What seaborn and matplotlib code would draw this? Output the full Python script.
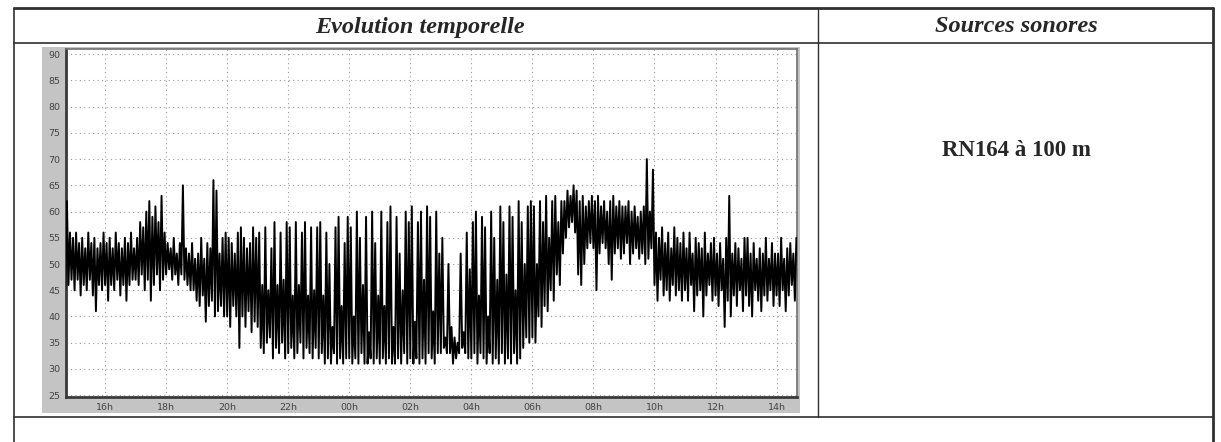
import numpy as np
import pandas as pd
import matplotlib
matplotlib.use("Agg")
import matplotlib.pyplot as plt
from matplotlib.lines import Line2D
from matplotlib.patches import Rectangle
import seaborn as sns

# sound level (dB), max and min read in each 6 min slot
# from 14.7h (day 1) to 38.6h (= 14.6h day 2)
t_start = 14.7
t_step = 0.1
lvl_hi = [
    62, 56, 55,
    56, 54, 55, 53, 56, 54, 55, 53, 54, 56,   # 15h
    54, 55, 53, 56, 54, 53, 55, 54, 56, 53,   # 16h
    55, 58, 57, 60, 62, 59, 61, 58, 63, 56,   # 17h
    54, 53, 55, 52, 54, 65, 53, 52, 54, 51,   # 18h
    52, 55, 51, 54, 53, 66, 64, 52, 55, 56,   # 19h
    55, 54, 52, 56, 57, 55, 53, 54, 57, 55,   # 20h
    56, 46, 57, 45, 53, 58, 46, 56, 47, 58,   # 21h
    57, 44, 58, 46, 56, 58, 44, 57, 45, 57,   # 22h
    58, 44, 56, 50, 38, 57, 59, 42, 54, 59,   # 23h
    57, 40, 60, 55, 46, 59, 37, 60, 54, 44,   # 00h
    60, 42, 58, 61, 38, 59, 52, 45, 60, 58,   # 01h
    61, 39, 58, 60, 47, 61, 59, 41, 60, 52,   # 02h
    55, 36, 50, 38, 36, 35, 52, 37, 56, 49,   # 03h
    58, 60, 44, 59, 57, 40, 60, 55, 47, 61,   # 04h
    58, 48, 61, 59, 45, 62, 58, 50, 61, 62,   # 05h
    61, 50, 62, 58, 63, 55, 62, 63, 58, 62,   # 06h
    62, 64, 63, 65, 64, 62, 63, 61, 62, 63,   # 07h
    62, 63, 61, 62, 60, 62, 63, 61, 62, 61,   # 08h
    61, 62, 60, 61, 59, 60, 61, 70, 60, 68,   # 09h
    56, 55, 57, 54, 56, 53, 57, 55, 54, 56,   # 10h
    53, 56, 52, 55, 54, 53, 56, 52, 54, 55,   # 11h
    52, 54, 51, 55, 63, 52, 54, 53, 51, 55,   # 12h
    55, 52, 54, 51, 53, 52, 55, 51, 54, 52,   # 13h
    52, 55, 51, 53, 54, 52, 55,               # 14h
]
lvl_lo = [
    45, 46, 47,
    45, 47, 44, 46, 45, 47, 44, 41, 46, 45,   # 15h
    46, 43, 46, 45, 47, 44, 46, 43, 46, 47,   # 16h
    47, 46, 48, 45, 47, 43, 46, 48, 45, 47,   # 17h
    48, 49, 47, 48, 46, 48, 47, 46, 45, 45,   # 18h
    43, 42, 44, 39, 42, 43, 40, 41, 42, 40,   # 19h
    40, 38, 42, 40, 34, 40, 38, 41, 37, 39,   # 20h
    38, 34, 33, 35, 36, 32, 34, 33, 35, 32,   # 21h
    33, 34, 32, 33, 35, 32, 34, 33, 32, 34,   # 22h
    32, 33, 31, 32, 31, 33, 31, 32, 31, 32,   # 23h
    32, 31, 32, 31, 33, 31, 31, 32, 31, 32,   # 00h
    31, 32, 31, 32, 31, 31, 32, 31, 33, 31,   # 01h
    32, 31, 32, 31, 32, 31, 33, 32, 31, 33,   # 02h
    33, 34, 33, 33, 31, 32, 33, 34, 33, 32,   # 03h
    32, 33, 31, 33, 32, 31, 33, 31, 32, 31,   # 04h
    33, 31, 32, 31, 33, 31, 32, 34, 36, 35,   # 05h
    36, 35, 40, 38, 42, 41, 45, 43, 48, 46,   # 06h
    52, 55, 57, 58, 56, 48, 46, 50, 53, 54,   # 07h
    53, 45, 52, 54, 53, 50, 47, 52, 53, 51,   # 08h
    52, 54, 50, 52, 53, 51, 52, 50, 51, 53,   # 09h
    46, 43, 47, 44, 45, 43, 46, 44, 45, 43,   # 10h
    45, 43, 46, 41, 44, 45, 40, 44, 46, 43,   # 11h
    44, 42, 45, 38, 43, 40, 44, 42, 45, 41,   # 12h
    44, 42, 40, 45, 43, 41, 44, 43, 45, 42,   # 13h
    44, 42, 45, 41, 44, 46, 43,               # 14h
]

tick_pos = [16, 18, 20, 22, 24, 26, 28, 30, 32, 34, 36, 38]
tick_lab = ['16h', '18h', '20h', '22h', '00h', '02h', '04h', '06h', '08h', '10h', '12h', '14h']
y_ticks = [25, 30, 35, 40, 45, 50, 55, 60, 65, 70, 75, 80, 85, 90]

header_left = 'Evolution temporelle'
header_right = 'Sources sonores'
source_txt = 'RN164 à 100 m'

# each slot drawn as min then max, half a slot apart
slot_t = t_start + t_step * np.arange(len(lvl_hi))
df = pd.DataFrame({
    't': np.column_stack([slot_t, slot_t + t_step / 2]).ravel(),
    'dB': np.column_stack([lvl_lo, lvl_hi]).ravel(),
})

sns.set_style('white')
plt.rcParams['font.family'] = ['DejaVu Sans']

W, H = 1221, 442
fig = plt.figure(figsize=(W / 100, H / 100), dpi=100)


def fx(x):
    return x / W


def fy(y):
    return 1 - y / H


# gray frame of the measuring software picture
fig.patches.append(Rectangle((fx(41.7), fy(413)), fx(800) - fx(41.7), fy(46.7) - fy(413),
                             transform=fig.transFigure, facecolor='#c4c4c4', edgecolor='none', zorder=-5))

ax = fig.add_axes([fx(65.7), fy(396.7), fx(796.7) - fx(65.7), fy(49) - fy(396.7)])
ax.set_zorder(2)
ax.set_facecolor('white')

sns.lineplot(data=df, x='t', y='dB', ax=ax, color='black', lw=1.4, zorder=3)

ax.set_xlim(14.71, 38.66)
ax.set_ylim(24.7, 91)
ax.set_xticks(tick_pos)
ax.set_xticklabels(tick_lab)
ax.set_yticks(y_ticks)
ax.set_xlabel('')
ax.set_ylabel('')
ax.grid(True, color='#9a9a9a', linestyle=(0, (1, 3)), lw=0.8)
ax.tick_params(axis='both', labelsize=6.8, colors='#444444', length=2.5, width=0.8, pad=1.5, direction='out')
ax.tick_params(axis='x', pad=2)
for s in ['left', 'bottom']:
    ax.spines[s].set_color('#3a3a3a')
    ax.spines[s].set_linewidth(2)
for s in ['top', 'right']:
    ax.spines[s].set_color('#707070')
    ax.spines[s].set_linewidth(1.2)

# table lines around the chart
lines = [
    ((14, 1213), (8, 8), 2.0),
    ((14, 1213), (42.5, 42.5), 1.2),
    ((14, 1213), (416.7, 416.7), 1.2),
    ((14, 14), (8, 442), 1.2),
    ((1213, 1213), (8, 442), 2.0),
    ((818.3, 818.3), (8, 416.7), 1.0),
]
for xs, ys, lw in lines:
    fig.add_artist(Line2D([fx(xs[0]), fx(xs[1])], [fy(ys[0]), fy(ys[1])],
                          transform=fig.transFigure, color='#303030', lw=lw))

fig.text(fx(420), fy(27), header_left, family='Liberation Serif', style='italic', weight='bold',
         fontsize=17.5, ha='center', va='center')
fig.text(fx(1016), fy(27), header_right, family='Liberation Serif', style='italic', weight='bold',
         fontsize=17.5, ha='center', va='center')
fig.text(fx(1016), fy(151), source_txt, family='Liberation Serif', weight='bold', fontsize=16.5,
         ha='center', va='center')

fig.savefig('out.png', dpi=100)
